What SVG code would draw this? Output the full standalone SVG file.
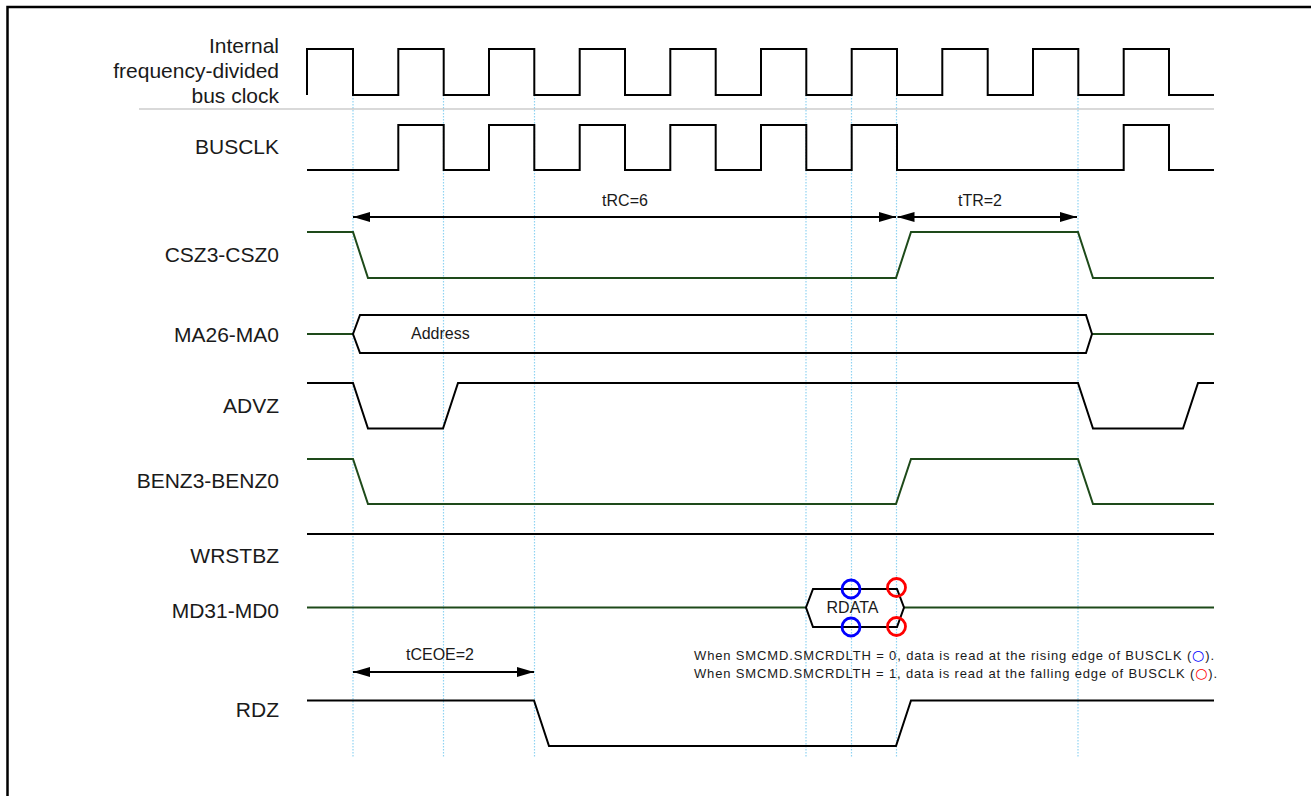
<svg xmlns="http://www.w3.org/2000/svg" width="1311" height="796" viewBox="0 0 1311 796">
<defs>
<style>
.lbl{font-family:"Liberation Sans",Arial,sans-serif;font-size:21px;fill:#1a1a1a;text-anchor:end}
.sm{font-family:"Liberation Sans",Arial,sans-serif;font-size:16px;fill:#1a1a1a}
.note{font-family:"Liberation Sans",Arial,sans-serif;font-size:13px;fill:#1a1a1a}
.ring{font-family:"DejaVu Sans",sans-serif;font-size:14px}
.sig{fill:none;stroke:#000;stroke-width:2;stroke-linejoin:miter}
.grn{fill:none;stroke:#1e4a1a;stroke-width:2;stroke-linejoin:miter}
.guide{stroke:#8fd3f2;stroke-width:1.2;stroke-dasharray:1.5 1.5}
.dim{stroke:#000;stroke-width:1.8}
.mk{fill:none;stroke-width:2.8}
</style>
<marker id="ah" viewBox="0 0 17 10" refX="17" refY="5" markerWidth="17" markerHeight="10" markerUnits="userSpaceOnUse" orient="auto-start-reverse">
<path d="M0,0 L17,5 L0,10 Z" fill="#000"/>
</marker>
</defs>
<rect x="7.5" y="7" width="1400" height="900" fill="#fff" stroke="#000" stroke-width="2.5"/>

<g id="guides">
<line class="guide" x1="353" y1="95" x2="353" y2="758"/>
<line class="guide" x1="443.5" y1="95" x2="443.5" y2="758"/>
<line class="guide" x1="534.5" y1="95" x2="534.5" y2="758"/>
<line class="guide" x1="806" y1="95" x2="806" y2="758"/>
<line class="guide" x1="851.5" y1="95" x2="851.5" y2="758"/>
<line class="guide" x1="896.5" y1="95" x2="896.5" y2="758"/>
<line class="guide" x1="1078" y1="95" x2="1078" y2="758"/>
</g>

<line x1="139" y1="109" x2="1214" y2="109" stroke="#b4b4b4" stroke-width="1.2"/>

<g id="clk-internal">
<text class="lbl" x="279" y="53">Internal</text>
<text class="lbl" x="279" y="78">frequency-divided</text>
<text class="lbl" x="279" y="103">bus clock</text>
<path class="sig" d="M307,95 V49 H353 V95 H398.3 V49 H443.7 V95 H489 V49 H534.3 V95 H579.7 V49 H625 V95 H670.3 V49 H715.7 V95 H761 V49 H806.3 V95 H851.7 V49 H897 V95 H942.3 V49 H987.7 V95 H1033 V49 H1078.3 V95 H1123.7 V49 H1169 V95 H1214"/>
</g>

<g id="busclk">
<text class="lbl" x="279" y="154">BUSCLK</text>
<path class="sig" d="M307,170 H398.3 V125 H443.7 V170 H489 V125 H534.3 V170 H579.7 V125 H625 V170 H670.3 V125 H715.7 V170 H761 V125 H806.3 V170 H851.7 V125 H897 V170 H1123.7 V125 H1169 V170 H1214"/>
</g>

<g id="csz">
<text class="lbl" x="279" y="262">CSZ3-CSZ0</text>
<path class="grn" d="M307,232 H353 L368,278 H896 L911,232 H1078 L1093,278 H1214"/>
</g>

<g id="ma">
<text class="lbl" x="279" y="341.5">MA26-MA0</text>
<path class="grn" d="M307,334 H353 M1092,334 H1214"/>
<path class="sig" d="M353,334 L360,315 H1086 L1092,334 L1086,353 H360 Z"/>
<text class="sm" x="411" y="339">Address</text>
</g>

<g id="advz">
<text class="lbl" x="279" y="413">ADVZ</text>
<path class="sig" d="M307,383 H353 L368,428.5 H443 L458,383 H1078 L1093,428.5 H1183 L1198,383 H1214"/>
</g>

<g id="benz">
<text class="lbl" x="279" y="488">BENZ3-BENZ0</text>
<path class="grn" d="M307,459 H353 L368,504 H896 L911,459 H1078 L1093,504 H1214"/>
</g>

<g id="wrstbz">
<text class="lbl" x="279" y="563">WRSTBZ</text>
<path class="sig" d="M307,534 H1214"/>
</g>

<g id="md">
<text class="lbl" x="279" y="618">MD31-MD0</text>
<path class="grn" d="M307,607.5 H806 M904,607.5 H1214"/>
<path class="sig" d="M806,607.5 L813,589 H897 L904,607.5 L897,627 H813 Z"/>
<text class="sm" x="852.5" y="613" text-anchor="middle">RDATA</text>
<circle class="mk" cx="851" cy="589" r="9" stroke="#0000ff"/>
<circle class="mk" cx="851" cy="627" r="9" stroke="#0000ff"/>
<circle class="mk" cx="896.5" cy="587.5" r="9" stroke="#ff0000"/>
<circle class="mk" cx="896.5" cy="626.5" r="9" stroke="#ff0000"/>
</g>

<g id="notes">
<text class="note" x="694" y="659.5" textLength="520" lengthAdjust="spacing">When SMCMD.SMCRDLTH = 0, data is read at the rising edge of BUSCLK (<tspan class="ring" fill="#0000ff">○</tspan>).</text>
<text class="note" x="694" y="677.5" textLength="523" lengthAdjust="spacing">When SMCMD.SMCRDLTH = 1, data is read at the falling edge of BUSCLK (<tspan class="ring" fill="#ff0000">○</tspan>).</text>
</g>

<g id="rdz">
<text class="lbl" x="279" y="717">RDZ</text>
<path class="sig" d="M307,700.5 H534 L549,746 H896 L911,700.5 H1214"/>
</g>

<g id="connectors">
<line class="dim" x1="353" y1="217" x2="896" y2="217" marker-start="url(#ah)" marker-end="url(#ah)"/>
<text class="sm" x="625" y="206" text-anchor="middle">tRC=6</text>
<line class="dim" x1="897.5" y1="217" x2="1077" y2="217" marker-start="url(#ah)" marker-end="url(#ah)"/>
<text class="sm" x="980" y="206" text-anchor="middle">tTR=2</text>
<line class="dim" x1="353" y1="672" x2="534" y2="672" marker-start="url(#ah)" marker-end="url(#ah)"/>
<text class="sm" x="440" y="660" text-anchor="middle">tCEOE=2</text>
</g>
</svg>
